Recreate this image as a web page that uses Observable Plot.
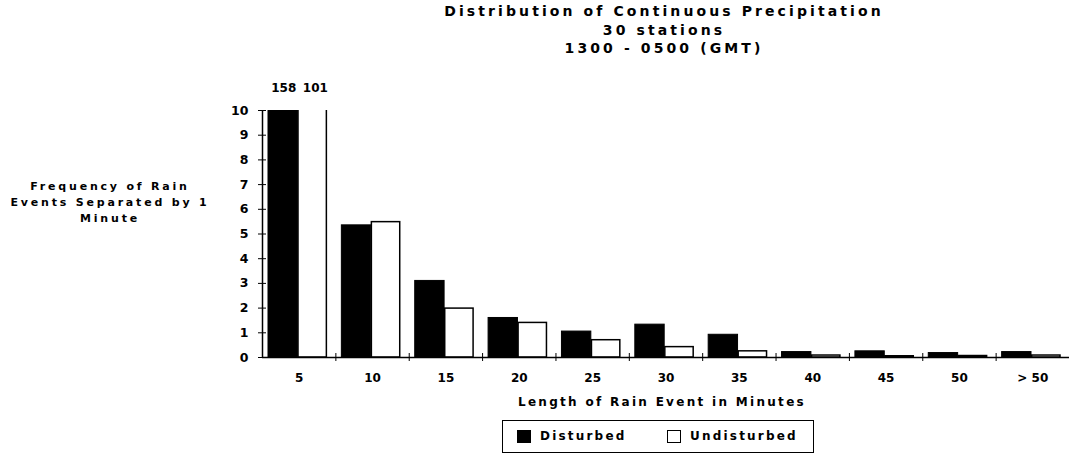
<!DOCTYPE html>
<html>
<head>
<meta charset="utf-8">
<script src="https://cdn.jsdelivr.net/npm/d3@7"></script>
<script src="https://cdn.jsdelivr.net/npm/@observablehq/plot@0.6"></script>
<style>
  html, body { margin: 0; padding: 0; background: #fff; }
  #wrap { position: relative; width: 1069px; height: 460px; overflow: hidden; font-family: "DejaVu Sans", Arial, sans-serif; font-weight: bold; color: #000; }
  #wrap svg { position: absolute; left: 0; top: 0; }
  .t { position: absolute; white-space: nowrap; text-align: center; }
  #title { left: 364px; width: 600px; top: 2px; font-size: 14px; line-height: 18.5px; letter-spacing: 3.1px; }
  #ylab { left: 0px; width: 220px; top: 179px; font-size: 11px; line-height: 16px; letter-spacing: 2.8px; }
  #xlab { left: 462px; width: 400px; top: 395px; font-size: 12px; letter-spacing: 2.3px; }
  #legend { position: absolute; left: 502px; top: 420px; width: 312px; height: 33px; border: 1px solid #000; box-sizing: border-box; font-size: 12px; letter-spacing: 2.2px; }
  .sw { position: absolute; top: 9px; width: 14px; height: 13px; border: 1px solid #000; box-sizing: border-box; }
  .lt { position: absolute; top: 8px; }
</style>
</head>
<body>
<div id="wrap">
  <div id="chart"></div>
  <div class="t" id="title">Distribution of Continuous Precipitation<br>30 stations<br>1300 - 0500 (GMT)</div>
  <div class="t" id="ylab">Frequency of Rain<br>Events Separated by 1<br>Minute</div>
  <div class="t" id="xlab">Length of Rain Event in Minutes</div>
  <div id="legend">
    <div class="sw" style="left:14px;background:#000"></div><div class="lt" style="left:37px">Disturbed</div>
    <div class="sw" style="left:164px;background:#fff"></div><div class="lt" style="left:187px">Undisturbed</div>
  </div>
</div>
<script>
const categories = ["5", "10", "15", "20", "25", "30", "35", "40", "45", "50", "> 50"];
const disturbed   = [158, 5.35, 3.1, 1.6, 1.05, 1.33, 0.92, 0.22, 0.25, 0.18, 0.22];
const undisturbed = [101, 5.48, 1.98, 1.4, 0.7, 0.42, 0.25, 0.08, 0.05, 0.06, 0.08];
const yTicks = [0, 1, 2, 3, 4, 5, 6, 7, 8, 9, 10];
const yMax = 10;

const rowsD = categories.map((c, i) => ({i, c, v: disturbed[i]}));
const rowsU = categories.map((c, i) => ({i, c, v: undisturbed[i]}));
const over = [...rowsD.map(d => ({...d, s: "D"})), ...rowsU.map(d => ({...d, s: "U"}))].filter(d => d.v > yMax);
const bounds = d3.range(1, categories.length + 1);
const font = "DejaVu Sans, Arial, sans-serif";

const chart = Plot.plot({
  width: 1069,
  height: 460,
  marginTop: 110,
  marginBottom: 103,
  marginLeft: 262,
  marginRight: 0,
  style: {fontFamily: font, fontWeight: "bold", fontSize: "12px", color: "#000", background: "transparent"},
  x: {type: "linear", domain: [0, categories.length]},
  y: {domain: [0, yMax]},
  marks: [
    Plot.rectY(rowsD, {x1: "i", x2: d => d.i + 1, y: "v", fill: "#000", stroke: "#000", strokeWidth: 1, insetLeft: 6, insetRight: 38, clip: true}),
    Plot.rectY(rowsU, {x1: "i", x2: d => d.i + 1, y: "v", fill: "#fff", stroke: "#000", strokeWidth: 1.5, insetLeft: 36, insetRight: 9, clip: true}),
    Plot.text(over, {x: d => d.i + (d.s === "D" ? 0.29 : 0.72), y: yMax, text: d => String(d.v), dy: -22, fontSize: 12, fontWeight: "bold", letterSpacing: "1px"}),
    Plot.ruleY([0], {stroke: "#000", strokeWidth: 1.5}),
    Plot.ruleX([0], {stroke: "#000", strokeWidth: 1.5}),
    Plot.axisY({ticks: yTicks, tickSize: 4, tickPadding: 10, fontSize: 12.5, fontWeight: "bold", label: null, stroke: "#000"}),
    Plot.axisY({ticks: yTicks, tickSize: 4, dx: 4, text: null, label: null, stroke: "#000"}),
    Plot.axisX({ticks: bounds, tickSize: 4, text: null, label: null, stroke: "#000"}),
    Plot.axisX({ticks: bounds, tickSize: 4, dy: -4, text: null, label: null, stroke: "#000"}),
    Plot.axisX({ticks: categories.map((c, i) => i + 0.5), tickSize: 0, tickPadding: 16, tickFormat: v => categories[Math.floor(v)], fontSize: 12, fontWeight: "bold", letterSpacing: "1.5px", label: null})
  ]
});
document.getElementById("chart").appendChild(chart);
</script>
</body>
</html>
